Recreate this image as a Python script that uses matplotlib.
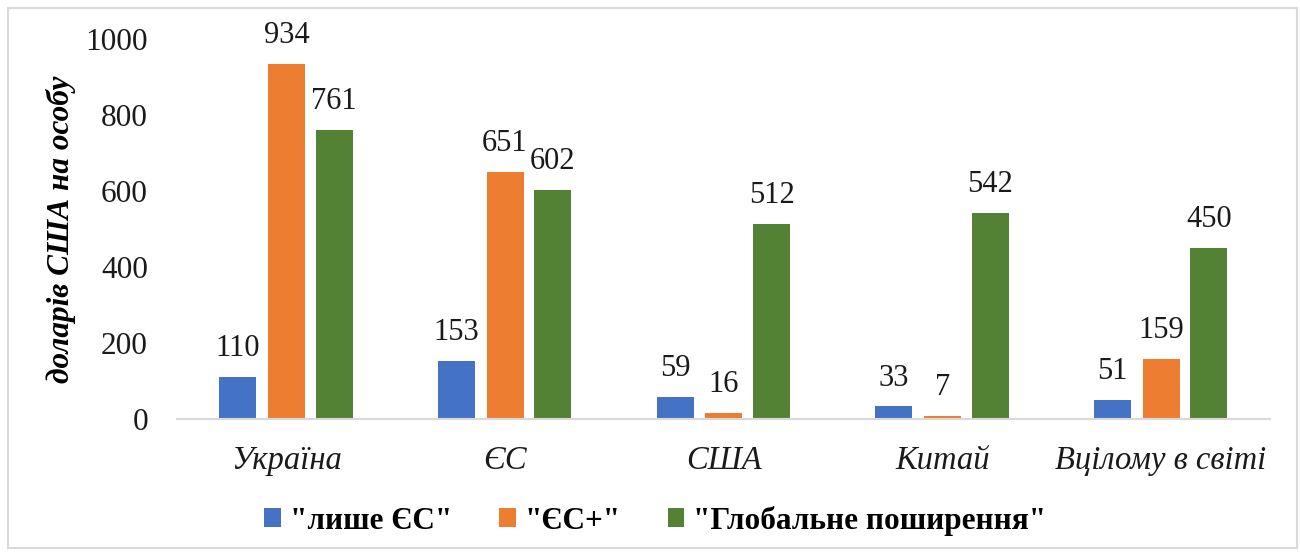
import numpy as np
from matplotlib import pyplot as plt
from matplotlib.patches import Rectangle

# Categories and series values
categories = ['Україна', 'ЄС', 'США', 'Китай', 'Вцілому в світі']
series_names = ['"лише ЄС"', '"ЄС+"', '"Глобальне поширення"']
only_eu = [110, 153, 59, 33, 51]
eu_plus = [934, 651, 16, 7, 159]
global_spread = [761, 602, 512, 542, 450]
colors = ['#4472C4', '#ED7D31', '#548235']

plt.rcParams['font.family'] = ['Liberation Serif', 'DejaVu Serif']

fig = plt.figure(figsize=(13, 5.55), dpi=100)
ax = fig.add_axes([0.1362, 0.245, 0.841, 0.685])

x = np.arange(len(categories))
width = 0.169
offsets = [-0.222, 0.0, 0.219]

for vals, off, col, name in zip([only_eu, eu_plus, global_spread], offsets, colors, series_names):
    bars = ax.bar(x + off, vals, width, color=col, label=name, zorder=2)
    for b, v in zip(bars, vals):
        ax.annotate(str(v), (b.get_x() + b.get_width() / 2, v), xytext=(0, 10),
                    textcoords='offset points', ha='center', va='bottom',
                    fontsize=22, color='#1a1a1a')

ax.set_xlim(-0.5, len(categories) - 0.5)
ax.set_ylim(0, 1000)
ax.set_yticks(range(0, 1001, 200))
ax.set_xticks(x)
ax.set_xticklabels(categories, fontsize=23.5, style='italic')
ax.tick_params(axis='y', labelsize=22.5, length=0, pad=21, labelcolor='#1a1a1a')
ax.tick_params(axis='x', length=0, pad=19, labelcolor='#1a1a1a')

for s in ['top', 'right', 'left']:
    ax.spines[s].set_visible(False)
ax.spines['bottom'].set_color('#D9D9D9')
ax.spines['bottom'].set_linewidth(1.5)

ax.set_ylabel('доларів США на особу', fontsize=22.5, fontweight='bold', style='italic')
ax.yaxis.set_label_coords(-0.092, 0.5)

leg = fig.legend(loc='center', bbox_to_anchor=(0.504, 0.062), ncol=3, frameon=False,
                 prop={'size': 22.5, 'weight': 'bold'}, handlelength=0.54, handleheight=0.54,
                 columnspacing=1.5, handletextpad=0.28)

fig.patches.append(Rectangle((0.006, 0.013), 0.992, 0.973, transform=fig.transFigure,
                             fill=False, edgecolor='#D9D9D9', linewidth=1.5))

fig.savefig('out.png', dpi=100)
